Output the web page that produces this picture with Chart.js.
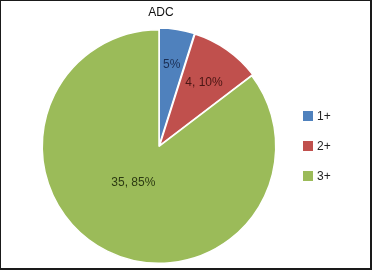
<!DOCTYPE html>
<html>
<head>
<meta charset="utf-8">
<script src="https://cdn.jsdelivr.net/npm/chart.js@4/dist/chart.umd.min.js"></script>
<style>
html,body{margin:0;padding:0;background:#fff;}
#wrap{position:relative;width:372px;height:270px;}
canvas{display:block;}
</style>
</head>
<body>
<div id="wrap"><canvas id="c" width="372" height="270"></canvas></div>
<script>
const chartTitle = "ADC";
const categories = ["1+", "2+", "3+"];
const values = [2, 4, 35];
const percentLabels = ["5%", "10%", "85%"];
const showValue = [false, true, true];

const colors = ["#4F81BD", "#C0504D", "#9BBB59"];
const textColors = ["#1b2f55", "#4a1614", "#2c3a12"];
const FONT = "Liberation Sans, Arial, sans-serif";

const overlay = {
  id: "overlay",
  afterDraw(chart) {
    const ctx = chart.ctx;
    const meta = chart.getDatasetMeta(0);
    const radial = [0.71, 0.67, 0.38];
    const shift = [0, 0, 9 * Math.PI / 180];
    ctx.save();
    ctx.font = "12px " + FONT;
    ctx.textAlign = "center";
    ctx.textBaseline = "middle";
    meta.data.forEach((arc, i) => {
      const p = arc.getProps(["x","y","startAngle","endAngle","outerRadius"], true);
      const mid = (p.startAngle + p.endAngle) / 2 + shift[i];
      const r = p.outerRadius * radial[i];
      const x = p.x + Math.cos(mid) * r;
      const y = p.y + Math.sin(mid) * r;
      const txt = showValue[i] ? values[i] + ", " + percentLabels[i] : percentLabels[i];
      ctx.fillStyle = textColors[i];
      ctx.fillText(txt, x, y);
    });
    ctx.fillStyle = "#111";
    ctx.fillText(chartTitle, 161, 13);
    ctx.textAlign = "left";
    categories.forEach((c, i) => {
      const y = 116 + i * 30;
      ctx.fillStyle = colors[i];
      ctx.fillRect(303, y - 5, 10, 10);
      ctx.fillStyle = "#222";
      ctx.fillText(c, 317, y + 0.5);
    });
    ctx.strokeStyle = "#1a1a1a";
    ctx.lineWidth = 1;
    ctx.strokeRect(0.5, 0.5, 370.5, 268.5);
    ctx.lineWidth = 2;
    ctx.beginPath();
    ctx.moveTo(371, 0); ctx.lineTo(371, 270);
    ctx.moveTo(0, 269); ctx.lineTo(372, 269);
    ctx.stroke();
    ctx.restore();
  }
};

new Chart(document.getElementById("c"), {
  type: "pie",
  data: {
    labels: categories,
    datasets: [{
      data: values,
      backgroundColor: colors,
      borderColor: "#ffffff",
      borderWidth: 1.5,
      offset: [4, 4, 0]
    }]
  },
  options: {
    responsive: false,
    animation: false,
    events: [],
    layout: { padding: { left: 39, top: 27, right: 93, bottom: 4 } },
    plugins: {
      legend: { display: false },
      title: { display: false },
      tooltip: { enabled: false }
    }
  },
  plugins: [overlay]
});
</script>
</body>
</html>
